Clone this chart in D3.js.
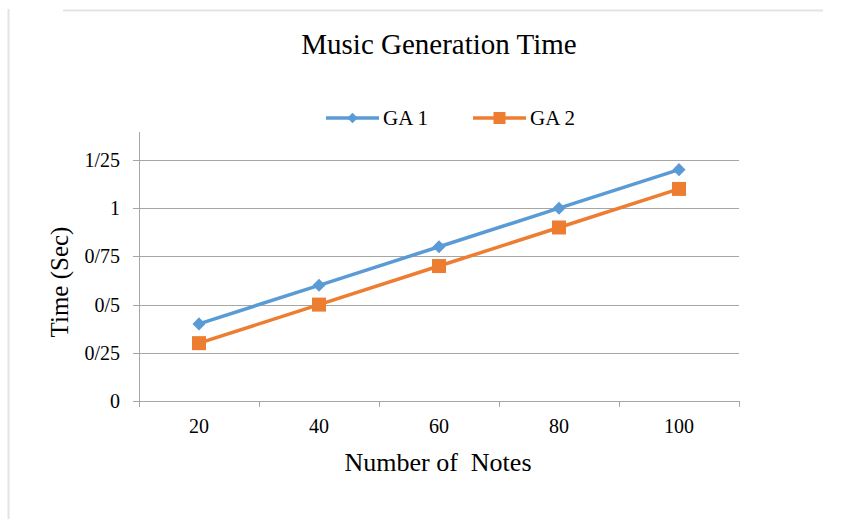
<!DOCTYPE html>
<html>
<head>
<meta charset="utf-8">
<script src="https://cdn.jsdelivr.net/npm/d3@7"></script>
<style>
  body { margin: 0; background: #fff; }
  text { font-family: "Liberation Serif", "Times New Roman", serif; fill: #000; }
</style>
</head>
<body>
<div id="chart"></div>
<script>
// Data
const notes = ["20", "40", "60", "80", "100"];
const ga1 = [0.4, 0.6, 0.8, 1.0, 1.2];
const ga2 = [0.3, 0.5, 0.7, 0.9, 1.1];
const yTicks = [0, 0.25, 0.5, 0.75, 1, 1.25];
const yTickLabels = ["0", "0/25", "0/5", "0/75", "1", "1/25"];
const seriesNames = ["GA 1", "GA 2"];

const W = 857, H = 519;
const plot = { left: 139, right: 739, top: 160, bottom: 401 };

const svg = d3.select("#chart").append("svg")
    .attr("width", W)
    .attr("height", H);

// frame edges
svg.append("line").attr("x1", 63).attr("x2", 823).attr("y1", 10.5).attr("y2", 10.5)
    .attr("stroke", "#e3e3e3").attr("stroke-width", 2);
svg.append("line").attr("x1", 8.5).attr("x2", 8.5).attr("y1", 9).attr("y2", H)
    .attr("stroke", "#e3e3e3").attr("stroke-width", 2);

// Scales
const x = d3.scaleBand().domain(notes).range([plot.left, plot.right]);
const y = d3.scaleLinear().domain([0, 1.25]).range([plot.bottom, plot.top]);

// gridlines
svg.append("g")
    .selectAll("line")
    .data(yTicks)
    .join("line")
    .attr("x1", plot.left - 6)
    .attr("x2", plot.right)
    .attr("y1", d => Math.round(y(d)) + 0.5)
    .attr("y2", d => Math.round(y(d)) + 0.5)
    .attr("stroke", "#a6a6a6")
    .attr("stroke-width", 1);

// y axis line
svg.append("line")
    .attr("x1", plot.left + 0.5).attr("x2", plot.left + 0.5)
    .attr("y1", 132).attr("y2", plot.bottom)
    .attr("stroke", "#a6a6a6");

// x tick marks at band edges
const edges = notes.map(d => x(d)).concat([plot.right]);
svg.append("g")
    .selectAll("line")
    .data(edges)
    .join("line")
    .attr("x1", d => Math.round(d) + 0.5)
    .attr("x2", d => Math.round(d) + 0.5)
    .attr("y1", plot.bottom)
    .attr("y2", plot.bottom + 6)
    .attr("stroke", "#a6a6a6");

// y tick labels
svg.append("g")
    .selectAll("text")
    .data(yTicks)
    .join("text")
    .attr("x", plot.left - 19)
    .attr("y", d => y(d) + 7)
    .attr("text-anchor", "end")
    .style("font-size", "20px")
    .text((d, i) => yTickLabels[i]);

// x tick labels
svg.append("g")
    .selectAll("text")
    .data(notes)
    .join("text")
    .attr("x", d => x(d) + x.bandwidth() / 2)
    .attr("y", 433)
    .attr("text-anchor", "middle")
    .style("font-size", "20px")
    .text(d => d);

// titles
svg.append("text")
    .attr("x", 439).attr("y", 54)
    .attr("text-anchor", "middle")
    .style("font-size", "29px")
    .text("Music Generation Time");

svg.append("text")
    .attr("x", 438).attr("y", 471)
    .attr("text-anchor", "middle")
    .style("font-size", "26px")
    .style("white-space", "pre")
    .attr("xml:space", "preserve")
    .text("Number of  Notes");

svg.append("text")
    .attr("transform", "translate(68,282) rotate(-90)")
    .attr("text-anchor", "middle")
    .style("font-size", "25px")
    .text("Time (Sec)");

// lines
const colors = ["#5b9bd5", "#ed7d31"];
const line = d3.line()
    .x((d, i) => x(notes[i]) + x.bandwidth() / 2)
    .y(d => y(d));

[ga1, ga2].forEach((vals, k) => {
    svg.append("path")
        .datum(vals)
        .attr("d", line)
        .attr("fill", "none")
        .attr("stroke", colors[k])
        .attr("stroke-width", 3.5)
        .attr("stroke-linejoin", "round");
});

// markers
svg.append("g")
    .selectAll("path")
    .data(ga1)
    .join("path")
    .attr("transform", (d, i) => `translate(${x(notes[i]) + x.bandwidth() / 2},${y(d)}) rotate(45)`)
    .attr("d", d3.symbol().type(d3.symbolSquare).size(85))
    .attr("fill", colors[0]);

svg.append("g")
    .selectAll("rect")
    .data(ga2)
    .join("rect")
    .attr("x", (d, i) => x(notes[i]) + x.bandwidth() / 2 - 7)
    .attr("y", d => y(d) - 7)
    .attr("width", 14)
    .attr("height", 14)
    .attr("fill", colors[1]);

// legend
const legend = [
    { name: seriesNames[0], x0: 326, color: colors[0], marker: "diamond" },
    { name: seriesNames[1], x0: 473, color: colors[1], marker: "square" }
];
const ly = 118;
legend.forEach(l => {
    svg.append("line")
        .attr("x1", l.x0).attr("x2", l.x0 + 53)
        .attr("y1", ly).attr("y2", ly)
        .attr("stroke", l.color).attr("stroke-width", 3.5);
    if (l.marker === "diamond") {
        svg.append("path")
            .attr("transform", `translate(${l.x0 + 26.5},${ly}) rotate(45)`)
            .attr("d", d3.symbol().type(d3.symbolSquare).size(55))
            .attr("fill", l.color);
    } else {
        svg.append("rect")
            .attr("x", l.x0 + 26.5 - 6).attr("y", ly - 6)
            .attr("width", 12).attr("height", 12)
            .attr("fill", l.color);
    }
    svg.append("text")
        .attr("x", l.x0 + 57).attr("y", ly + 7)
        .style("font-size", "21px")
        .text(l.name);
});
</script>
</body>
</html>
